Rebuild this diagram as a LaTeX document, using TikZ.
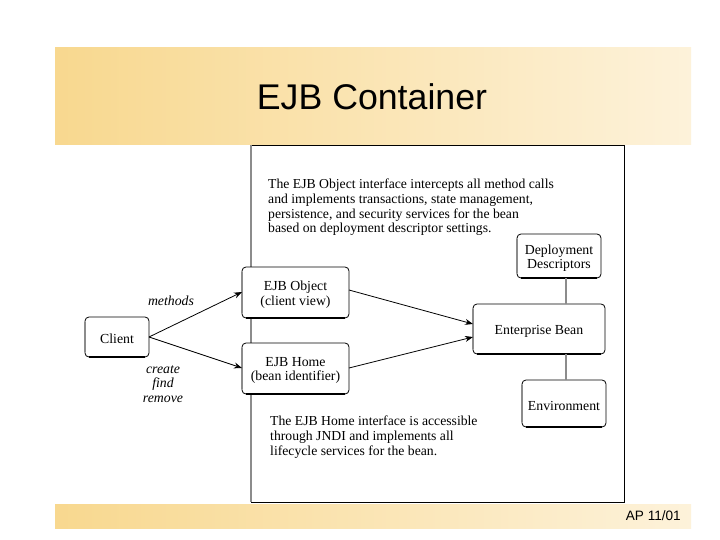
\documentclass[tikz,border=0pt]{standalone}
\usepackage{fontspec}
\setmainfont{Liberation Serif}
\newfontfamily\arialfont{Liberation Sans}
\usetikzlibrary{arrows.meta}
\definecolor{bandL}{HTML}{F8D88F}
\definecolor{bandR}{HTML}{FDF2DA}
\definecolor{edgeGray}{HTML}{8C8C8C}
\tikzset{
  band/.style={draw=none,left color=bandL,right color=bandR},
  boxnode/.style={draw=black,line width=0.8pt,rounded corners=4pt,fill=white,inner sep=0pt},
  boxtext/.style={inner sep=0pt,align=center,font=\fontsize{13.8}{14.6}\selectfont},
  flow/.style={draw=black,line width=0.8pt,-{Stealth[length=8pt,width=6pt]}},
  link/.style={draw=edgeGray,line width=1.2pt},
  note/.style={inner sep=0pt,align=left,anchor=north west,font=\fontsize{13.7}{14.6}\selectfont},
  tag/.style={inner sep=0pt,align=center,font=\fontsize{13.8}{14.6}\selectfont\itshape},
}
\newcommand{\pxbox}[6]{% name, x0, y0, x1, y1, text
  \node[boxnode,minimum width=#4pt-#2pt,minimum height=#5pt-#3pt] (#1) at ({(#2+#4)/2},{(#3+#5)/2}) {};
  \node[boxtext] (#1text) at ([yshift=-2pt]#1.center) {#6};
  \draw[edgeGray,line width=1.4pt] (#2,#3+5) -- (#2,#5-5);
  \draw[black,line width=1.6pt] (#2+4,#5) -- (#4-4,#5);
}
\begin{document}
\begin{tikzpicture}[x=1pt,y=-1pt]
\useasboundingbox (0,0) rectangle (720,540);
\fill[white] (0,0) rectangle (720,540);
\path[band] (55,48) rectangle (691,145);
\path[band] (55,504) rectangle (691,528);
\node[inner sep=0pt,font=\arialfont\fontsize{35.7}{40}\selectfont] (title) at (372,97) {EJB Container};
\node[inner sep=0pt,anchor=east,font=\arialfont\fontsize{13.6}{16}\selectfont] (foot) at (681,516) {AP 11/01};
% frame
\draw[black,line width=0.8pt] (251,145) -- (624,145) -- (624,502) -- (251,502);
\draw[edgeGray,line width=1.2pt] (251,145) -- (251,502);
% notes
\node[note] (topnote) at (268,179) {The EJB Object interface intercepts all method calls\\and implements transactions, state management,\\persistence, and security services for the bean\\based on deployment descriptor settings.};
\node[note] (botnote) at (270,416) {The EJB Home interface is accessible\\through JNDI and implements all\\lifecycle services for the bean.};
% boxes
\pxbox{client}{85}{317}{149}{357}{Client}
\pxbox{obj}{242}{267}{349}{318}{EJB Object\\(client view)}
\pxbox{home}{242}{343}{349}{394}{EJB Home\\(bean identifier)}
\pxbox{dep}{517}{234}{601}{278}{Deployment\\Descriptors}
\pxbox{bean}{473}{304}{605}{354}{Enterprise Bean}
\pxbox{env}{522}{380}{606}{427}{Environment}
% connector guides
\coordinate (gx) at (566,0);
\coordinate (clientout) at (149,337);
\coordinate (objin) at (242,292);
\coordinate (homein) at (242,368);
\coordinate (objout) at (349,290);
\coordinate (homeout) at (349,368);
\coordinate (beanupper) at (473,324);
\coordinate (beanlower) at (473,337);
\draw[flow] (clientout) -- (objin);
\draw[flow] (clientout) -- (homein);
\draw[flow] (objout) -- (beanupper);
\draw[flow] (homeout) -- (beanlower);
\draw[link] (dep.south -| gx) -- (bean.north -| gx);
\draw[link] (bean.south -| gx) -- (env.north -| gx);
% labels
\node[tag] (methods) at (171,301) {methods};
\node[tag] (ops) at (163,384) {create\\find\\remove};
\end{tikzpicture}
\end{document}
